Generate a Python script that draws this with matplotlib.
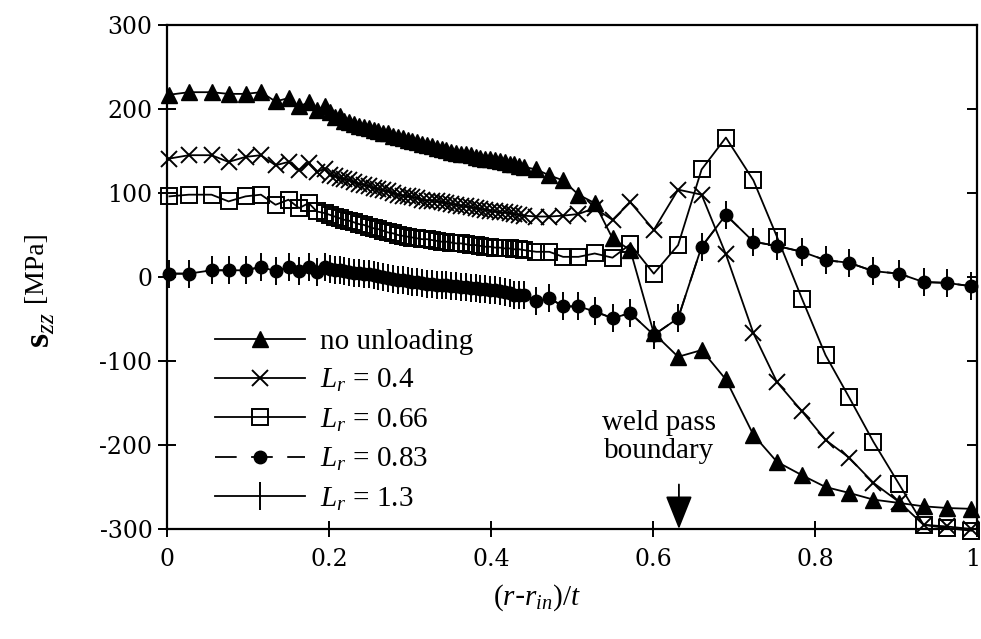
import matplotlib
matplotlib.use("Agg")
import matplotlib.pyplot as plt
import matplotlib.transforms as mtransforms
from matplotlib.ticker import FixedLocator, FixedFormatter

plt.rcParams['mathtext.fontset'] = 'custom'
plt.rcParams['mathtext.rm'] = 'Liberation Serif'
plt.rcParams['mathtext.it'] = 'Liberation Serif:italic'
plt.rcParams['mathtext.bf'] = 'Liberation Serif:bold'
plt.rcParams['axes.unicode_minus'] = False

# ---------------- data ----------------
x_pos = [0.003, 0.027, 0.055, 0.076, 0.097, 0.116, 0.134, 0.150, 0.163, 0.175, 0.185, 0.195,
         0.201, 0.207, 0.213, 0.219, 0.225, 0.231, 0.237, 0.243, 0.249, 0.255,
         0.261, 0.267, 0.273, 0.279, 0.285, 0.291, 0.297, 0.303, 0.309, 0.315,
         0.321, 0.327, 0.333, 0.339, 0.345, 0.351, 0.357, 0.363, 0.369, 0.375,
         0.381, 0.387, 0.393, 0.399, 0.405, 0.411, 0.417, 0.423, 0.429, 0.435,
         0.441, 0.456, 0.472, 0.489, 0.508, 0.528, 0.550, 0.572, 0.601, 0.631,
         0.660, 0.690, 0.724, 0.753, 0.784, 0.813, 0.842, 0.872, 0.904, 0.934,
         0.963, 0.993]

no_unloading = [217, 220, 220, 218, 218, 220, 209, 213, 203, 208, 199, 203,
                196, 190, 192, 186, 184, 182, 180, 178, 177, 175,
                174, 172, 171, 168, 167, 166, 163, 162, 161, 158,
                157, 156, 153, 152, 151, 149, 148, 147, 146, 145,
                143, 142, 141, 140, 139, 138, 137, 135, 134, 132,
                131, 128, 121, 115, 98, 88, 46, 32, -67, -95,
                -87, -122, -188, -220, -236, -250, -257, -265, -269, -273,
                -275, -276]

lr_040 = [141, 145, 145, 137, 143, 145, 133, 137, 127, 136, 125, 129,
          122, 120, 118, 117, 115, 113, 111, 110, 108, 106,
          105, 103, 102, 100, 98, 97, 96, 95, 94, 92,
          91, 91, 90, 89, 88, 87, 86, 85, 84, 83,
          82, 81, 80, 79, 78, 77, 77, 76, 75, 74,
          73, 72, 72, 73, 75, 82, 68, 89, 56, 104,
          98, 27, -67, -125, -160, -194, -215, -245, -268, -295,
          -297, -300]

lr_066 = [96, 98, 98, 90, 96, 98, 86, 92, 82, 88, 78, 76,
          74, 72, 70, 68, 67, 65, 63, 62, 60, 58,
          57, 55, 53, 52, 50, 49, 48, 47, 46, 45,
          45, 44, 43, 42, 42, 41, 40, 40, 39, 38,
          38, 37, 36, 36, 35, 35, 34, 34, 33, 33,
          32, 30, 30, 24, 24, 28, 23, 39, 4, 38,
          128, 166, 115, 48, -26, -93, -143, -196, -247, -295,
          -299, -302]

lr_083 = [4, 4, 8, 8, 8, 12, 7, 12, 7, 12, 6, 12,
          9, 8, 8, 7, 6, 5, 5, 4, 3, 2,
          1, 0, -1, -2, -3, -4, -5, -6, -6, -7,
          -8, -8, -9, -10, -10, -11, -11, -12, -12, -13,
          -13, -14, -14, -15, -16, -17, -18, -19, -21, -22,
          -21, -29, -25, -35, -35, -41, -49, -43, -69, -49,
          36, 74, 42, 37, 30, 20, 17, 7, 4, -6,
          -7, -11]

lr_130 = [4, 4, 8, 8, 8, 12, 7, 12, 7, 12, 6, 12,
          9, 8, 8, 7, 6, 5, 5, 4, 3, 2,
          1, 0, -1, -2, -3, -4, -5, -6, -6, -7,
          -8, -8, -9, -10, -10, -11, -11, -12, -12, -13,
          -13, -14, -14, -15, -16, -17, -18, -19, -21, -22,
          -21, -29, -25, -35, -35, -41, -49, -43, -69, -49,
          36, 74, 42, 37, 30, 20, 17, 7, 4, -6,
          -7, -11]

series_labels = ['no unloading', r'$L_r$ = 0.4', r'$L_r$ = 0.66',
                 r'$L_r$ = 0.83', r'$L_r$ = 1.3']
x_ticks = [0, 0.2, 0.4, 0.6, 0.8, 1.0]
x_tick_labels = ['0', '0.2', '0.4', '0.6', '0.8', '1']
y_ticks = [-300, -200, -100, 0, 100, 200, 300]
boundary_x = 0.632

# ---------------- figure ----------------
W, H = 981, 639
fig = plt.figure(figsize=(W / 100, H / 100), dpi=100)
ax = fig.add_axes([167 / W, 1 - 529 / H, (977 - 167) / W, 504 / H])

lw = 1.3
ax.plot(x_pos, no_unloading, color='k', lw=lw, marker='^', ms=11,
        mfc='k', mec='k', clip_on=False, label=series_labels[0], zorder=3)
ax.plot(x_pos, lr_040, color='k', lw=lw, marker='x', ms=11, mew=1.4,
        clip_on=False, label=series_labels[1], zorder=3)
ax.plot(x_pos, lr_066, color='k', lw=lw, marker='s', ms=12, mfc='none',
        mec='k', mew=1.4, clip_on=False, label=series_labels[2], zorder=3)
ax.plot(x_pos, lr_083, color='k', lw=lw, ls=(0, (12, 8)), marker='o', ms=9,
        mfc='k', mec='k', clip_on=False, label=series_labels[3], zorder=3)
ax.plot(x_pos, lr_130, color='k', lw=lw, marker='|', ms=20, mew=1.4,
        clip_on=False, label=series_labels[4], zorder=3)

ax.set_xlim(0, 1.0)
ax.set_ylim(-300, 300)
ax.xaxis.set_major_locator(FixedLocator(x_ticks))
ax.xaxis.set_major_formatter(FixedFormatter(x_tick_labels))
ax.yaxis.set_major_locator(FixedLocator(y_ticks))

for s in ax.spines.values():
    s.set_linewidth(1.6)

ax.tick_params(axis='x', which='major', direction='inout', length=11, width=1.4,
               labelsize=17, pad=8)
ax.tick_params(axis='y', which='major', direction='inout', length=13, width=1.4,
               labelsize=17, pad=4)
for lab in ax.get_xticklabels() + ax.get_yticklabels():
    lab.set_fontfamily('DejaVu Serif')
last = ax.get_xticklabels()[-1]
last.set_transform(last.get_transform() +
                   mtransforms.ScaledTranslation(-4 / 100, 0, fig.dpi_scale_trans))

# right ticks inward only
sec = ax.secondary_yaxis('right')
sec.yaxis.set_major_locator(FixedLocator(y_ticks))
sec.tick_params(direction='in', length=7, width=1.4, labelright=False)
sec.spines['right'].set_visible(False)

ax.set_xlabel(r'$\mathit{(r}$-$\mathit{r_{in})/t}$', fontsize=21)
ax.xaxis.set_label_coords((537 - 167) / 810, (529 - 582) / 504)

# y label built from two pieces (large bold s with subscript, then unit)
fig.text(40 / W, 1 - 330 / H, r'$\mathbf{s}_{zz}$', rotation=90, ha='center',
         va='center', fontsize=26)
fig.text(36 / W, 1 - 267 / H, '[MPa]', rotation=90, ha='center', va='center',
         fontsize=20, family='Liberation Serif')

ax.annotate('', xy=(boundary_x, -300), xytext=(boundary_x, -247),
            arrowprops=dict(arrowstyle='-|>,head_length=1.0,head_width=0.4',
                            mutation_scale=21, color='k', lw=1.3,
                            shrinkA=0, shrinkB=0), annotation_clip=False)
ax.text(0.607, -190, 'weld pass\nboundary', ha='center', va='center',
        fontsize=21, family='Liberation Serif', linespacing=1.1)

leg = ax.legend(loc='upper left', bbox_to_anchor=(0.059, 0.398), frameon=False,
                handlelength=3.1, handletextpad=0.5, labelspacing=0.42,
                prop={'family': 'Liberation Serif', 'size': 21},
                borderaxespad=0, borderpad=0)

fig.savefig('out.png', dpi=100)
